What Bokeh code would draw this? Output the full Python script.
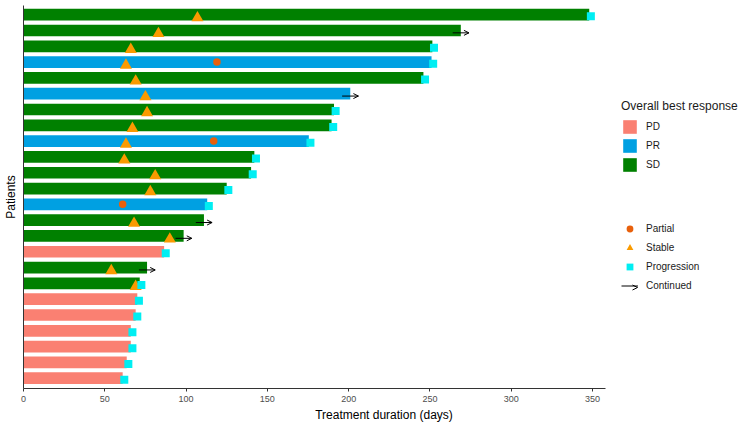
from bokeh.plotting import figure
from bokeh.models import ColumnDataSource, Legend, LegendItem, Arrow, OpenHead, FixedTicker
from bokeh.transform import dodge
from bokeh.embed import file_html
from bokeh.resources import INLINE

# ---- data (patients listed top to bottom) ----
durations = [348, 269, 251.5, 251, 246, 201, 191, 189.5, 175.5, 142, 140, 125,
             113, 111, 98.5, 86.5, 76, 71.5, 70, 69, 66, 66, 63.5, 61]
responses = ["SD", "SD", "SD", "PR", "SD", "PR", "SD", "SD", "PR", "SD", "SD", "SD",
             "PR", "SD", "SD", "PD", "SD", "SD", "PD", "PD", "PD", "PD", "PD", "PD"]
progression = [1, 0, 1, 1, 1, 0, 1, 1, 1, 1, 1, 1,
               1, 0, 0, 1, 0, 1, 1, 1, 1, 1, 1, 1]
continued = [0, 1, 0, 0, 0, 1, 0, 0, 0, 0, 0, 0,
             0, 1, 1, 0, 1, 0, 0, 0, 0, 0, 0, 0]
stable_days = [107, 83, 66, 63, 69, 75, 76, 67, 63, 62, 81, 78,
               None, 68, 90, None, 54, 69, None, None, None, None, None, None]
partial_days = [None, None, None, 119, None, None, None, None, 117, None, None, None,
                61, None, None, None, None, None, None, None, None, None, None, None]
x_ticks = [0, 50, 100, 150, 200, 250, 300, 350]
x_axis_max = 358

resp_colors = {"PD": "#FA8072", "PR": "#00A0E2", "SD": "#008000"}
FONT = "Liberation Sans"

n = len(durations)
ypos = [n - i for i in range(n)]

p = figure(frame_width=721, frame_height=383, x_range=(0, 443.5), y_range=(0.349, 24.58),
           output_backend="svg", toolbar_location=None,
           min_border_left=23, min_border_right=0, min_border_top=5)
p.xgrid.visible = False
p.ygrid.visible = False
p.outline_line_color = None

# bars per response
bar_r = {}
for resp in ["PD", "PR", "SD"]:
    idx = [i for i in range(n) if responses[i] == resp]
    src = ColumnDataSource(dict(y=[ypos[i] for i in idx], d=[durations[i] for i in idx]))
    bar_r[resp] = p.hbar(y="y", left=0, right="d", height=0.74, source=src,
                         fill_color=resp_colors[resp], line_color=None)

# partial
pidx = [i for i in range(n) if partial_days[i] is not None]
psrc = ColumnDataSource(dict(x=[partial_days[i] for i in pidx], y=[ypos[i] for i in pidx]))
r_partial = p.scatter(x="x", y="y", source=psrc, marker="circle", size=7.5,
                      fill_color="#E8600C", line_color=None)

# stable
sidx = [i for i in range(n) if stable_days[i] is not None]
ssrc = ColumnDataSource(dict(x=[stable_days[i] for i in sidx], y=[ypos[i] for i in sidx]))
r_stable = p.scatter(x="x", y=dodge("y", -0.2), source=ssrc, marker="triangle", size=12,
                     fill_color="#FA9A00", line_color=None)

# progression
gidx = [i for i in range(n) if progression[i]]
gsrc = ColumnDataSource(dict(x=[durations[i] for i in gidx], y=[ypos[i] for i in gidx]))
r_prog = p.scatter(x=dodge("x", 1), y=dodge("y", -0.1), source=gsrc, marker="square", size=8,
                   fill_color="#00EEF2", line_color=None)

# continued arrows
cidx = [i for i in range(n) if continued[i]]
csrc = ColumnDataSource(dict(x0=[durations[i] - 5 for i in cidx],
                             x1=[durations[i] + 5 for i in cidx],
                             xh=[durations[i] + 3 for i in cidx],
                             y=[ypos[i] - 0.15 for i in cidx]))
r_cont = p.segment(x0="x0", y0="y", x1="x1", y1="y", source=csrc, line_color="black", line_width=1)
p.add_layout(Arrow(x_start="xh", y_start="y", x_end="x1", y_end="y", source=csrc, line_alpha=0,
                   end=OpenHead(size=5, line_width=1, line_color="black")))

# axes
p.xaxis.bounds = (0, x_axis_max)
p.xaxis.ticker = FixedTicker(ticks=x_ticks)
p.xaxis.minor_tick_line_color = None
p.xaxis.major_tick_in = 0
p.xaxis.major_tick_out = 3
p.xaxis.axis_line_color = "#333333"
p.xaxis.major_tick_line_color = "#333333"
p.xaxis.major_label_text_font = FONT
p.xaxis.major_label_text_font_size = "9px"
p.xaxis.major_label_text_color = "#4D4D4D"
p.xaxis.major_label_standoff = 4
p.xaxis.axis_label = "Treatment duration (days)"
p.xaxis.axis_label_text_font = FONT
p.xaxis.axis_label_text_font_size = "12px"
p.xaxis.axis_label_text_font_style = "normal"
p.xaxis.axis_label_text_color = "black"
p.xaxis.axis_label_standoff = 3

p.yaxis.ticker = FixedTicker(ticks=[])
p.yaxis.minor_tick_line_color = None
p.yaxis.major_tick_line_color = None
p.yaxis.axis_line_color = "#333333"
p.yaxis.major_label_standoff = 0
p.yaxis.axis_label = "Patients"
p.yaxis.axis_label_text_font = FONT
p.yaxis.axis_label_text_font_size = "12px"
p.yaxis.axis_label_text_font_style = "normal"
p.yaxis.axis_label_text_color = "black"
p.yaxis.axis_label_standoff = 6

common = dict(glyph_width=17, glyph_height=17, label_standoff=8, spacing=2, padding=0, margin=0,
              border_line_color=None, background_fill_alpha=0, label_height=15,
              label_text_font=FONT, label_text_font_size="10px", label_text_color="#1A1A1A")

leg1 = Legend(items=[LegendItem(label=r, renderers=[bar_r[r]]) for r in ["PD", "PR", "SD"]],
              title="Overall best response", title_text_font=FONT, title_text_font_size="12px",
              title_text_font_style="normal", title_text_color="#1A1A1A", title_standoff=5,
              location=(598, 215), **common)
leg2 = Legend(items=[LegendItem(label="Partial", renderers=[r_partial]),
                     LegendItem(label="Stable", renderers=[r_stable]),
                     LegendItem(label="Progression", renderers=[r_prog]),
                     LegendItem(label="Continued", renderers=[r_cont])],
              location=(598, 94), **common)
p.add_layout(leg1)
p.add_layout(leg2)
p.add_layout(Arrow(x_start=608, y_start=101, x_end=614, y_end=101,
                   start_units="screen", end_units="screen", line_alpha=0,
                   end=OpenHead(size=5, line_width=1, line_color="black")))

open("out.html", "w").write(file_html(p, INLINE))
